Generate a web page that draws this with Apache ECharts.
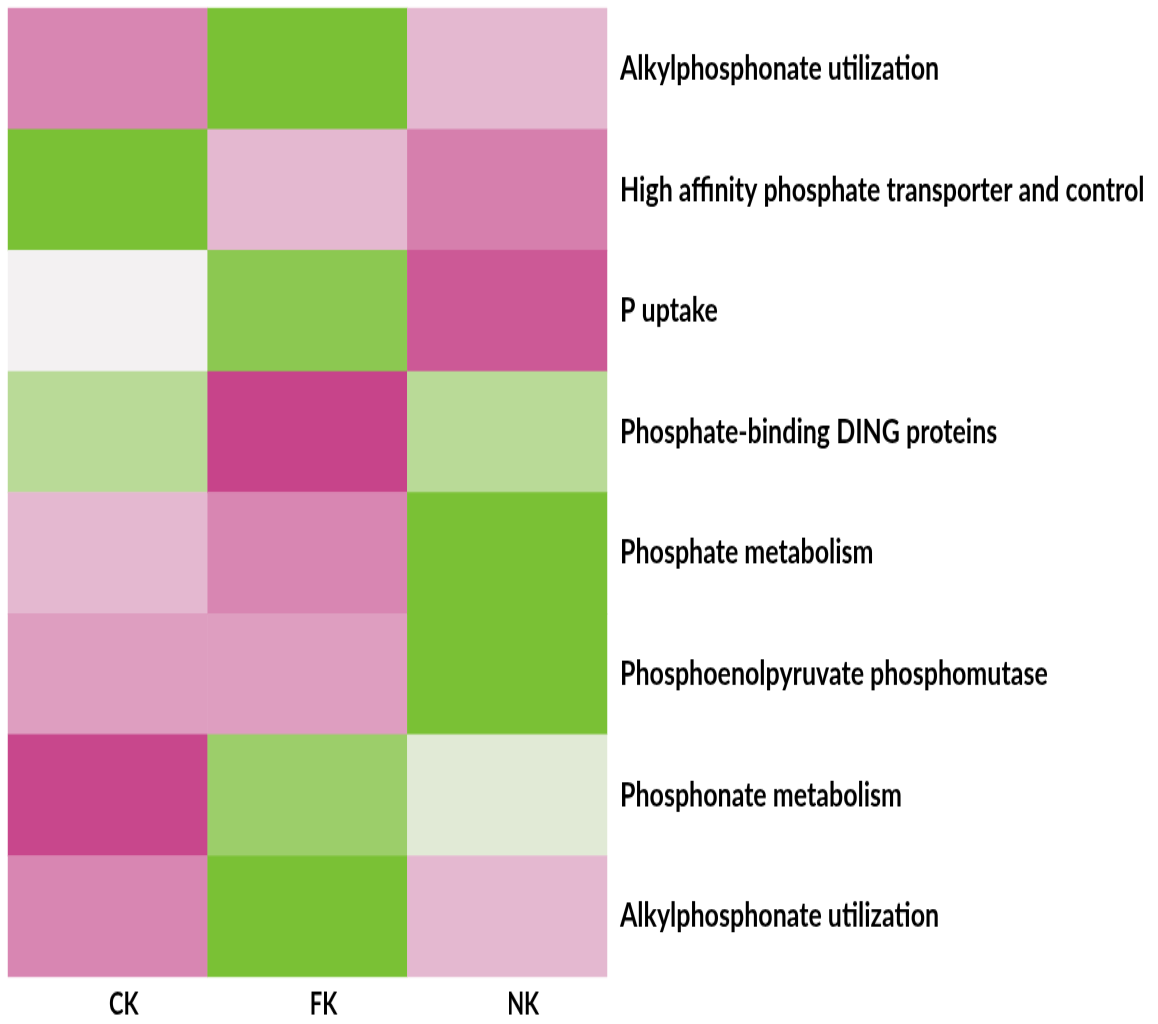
<!DOCTYPE html>
<html>
<head>
<meta charset="utf-8">
<title>Phosphorus cycling genes heatmap</title>
<script src="https://cdn.jsdelivr.net/npm/echarts@6/dist/echarts.min.js"></script>
<style>
  html, body { margin: 0; padding: 0; background: #ffffff; }
  #frame { width: 1158px; height: 1024px; position: relative; }
  /* chart is laid out at reduced height and stretched vertically for tall, narrow lettering */
  #chart { position: absolute; left: 0; top: 0; width: 1158px; height: 758px; transform: scaleY(1.3509); transform-origin: 0 0; }
</style>
</head>
<body>
<div id="frame"><div id="chart"></div></div>
<script>
// Sample groups (columns)
const samples = ['CK', 'FK', 'NK'];

// Functional categories (rows, top to bottom)
const pathways = [
  'Alkylphosphonate utilization',
  'High affinity phosphate transporter and control',
  'P uptake',
  'Phosphate-binding DING proteins',
  'Phosphate metabolism',
  'Phosphoenolpyruvate phosphomutase',
  'Phosphonate metabolism',
  'Alkylphosphonate utilization'
];

// Row-scaled abundance for each sample, in pathway order
const ckValues = [-0.62, 1.00, 0.00, 0.48, -0.33, -0.48, -0.98, -0.62];
const fkValues = [1.00, -0.33, 0.85, -1.00, -0.62, -0.48, 0.72, 1.00];
const nkValues = [-0.33, -0.66, -0.88, 0.48, 1.00, 1.00, 0.15, -0.33];

const columns = [ckValues, fkValues, nkValues];
const cells = [];
columns.forEach(function (vals, xi) {
  vals.forEach(function (v, yi) {
    // y axis uses unique indices so repeated row names stay separate
    cells.push([xi, yi, v]);
  });
});

const chart = echarts.init(document.getElementById('chart'));
chart.setOption({
  animation: false,
  backgroundColor: '#ffffff',
  grid: { left: 8, right: 551, top: 6, bottom: 35 },
  xAxis: {
    type: 'category',
    data: samples,
    axisLine: { show: false },
    axisTick: { show: false },
    splitLine: { show: false },
    axisLabel: {
      margin: 10,
      padding: [0, 0, 0, 32],
      color: '#000000',
      fontFamily: 'Lato',
      fontWeight: 'bold',
      fontSize: 22
    }
  },
  yAxis: {
    type: 'category',
    data: pathways.map(function (_, i) { return String(i); }),
    inverse: true,
    position: 'right',
    axisLine: { show: false },
    axisTick: { show: false },
    splitLine: { show: false },
    axisLabel: {
      margin: 13,
      padding: [0, 0, 8, 0],
      color: '#000000',
      fontFamily: 'Lato',
      fontWeight: 'bold',
      fontSize: 25,
      formatter: function (val) { return pathways[Number(val)]; }
    }
  },
  visualMap: {
    show: false,
    type: 'continuous',
    min: -1,
    max: 1,
    dimension: 2,
    inRange: { color: ['#C7448A', '#F3F1F2', '#7AC135'] }
  },
  series: [{
    type: 'heatmap',
    data: cells,
    itemStyle: { borderWidth: 0 },
    emphasis: { disabled: true }
  }]
});
</script>
</body>
</html>
